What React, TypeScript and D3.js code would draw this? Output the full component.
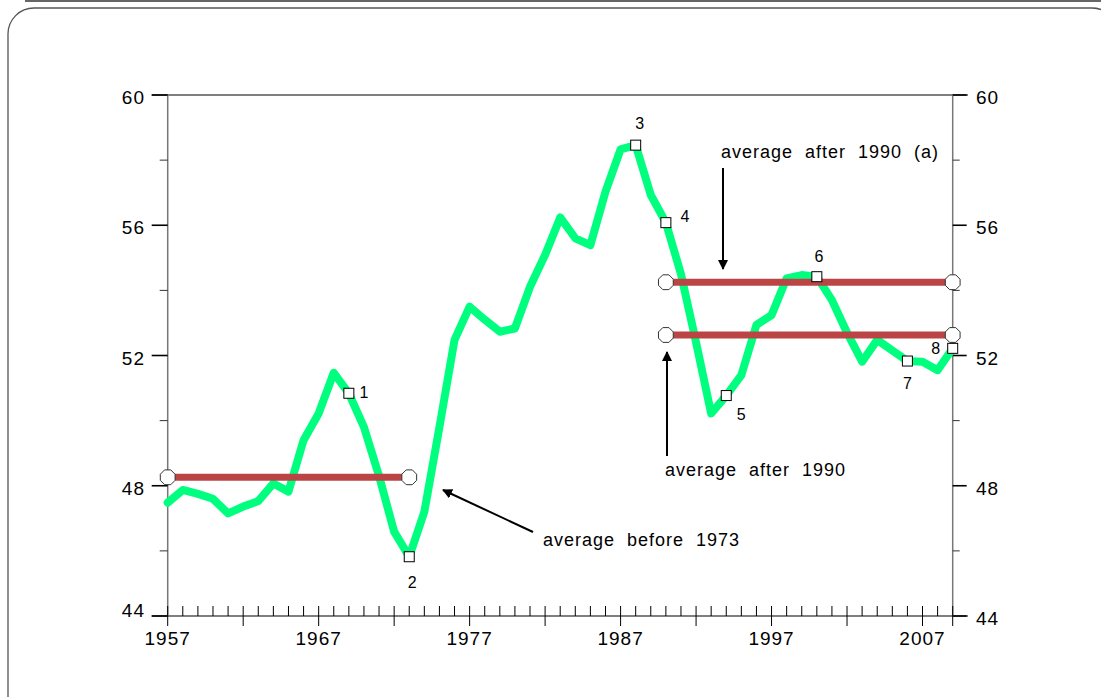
import React from 'react';
import * as d3 from 'd3';

// values, one per year from 1957 to 2009
const years = d3.range(1957, 2010);
const values = [
  47.48, 47.87, 47.75, 47.6, 47.15, 47.36, 47.53, 48.07, 47.82, 49.4,
  50.22, 51.47, 50.84, 49.8, 48.3, 46.59, 45.82, 47.2, 49.8, 52.48,
  53.5, 53.1, 52.73, 52.83, 54.11, 55.09, 56.24, 55.6, 55.39, 57.03,
  58.33, 58.46, 56.93, 56.08, 54.5, 52.4, 50.22, 50.77, 51.4, 52.94,
  53.24, 54.37, 54.47, 54.42, 53.7, 52.7, 51.81, 52.48, 52.15, 51.83,
  51.81, 51.55, 52.22,
];

// numbered points
const markedYears = [1969, 1973, 1988, 1990, 1994, 2000, 2006, 2009];
const markedLabels = ['1', '2', '3', '4', '5', '6', '7', '8'];

// averages: [from, to, value]
const averages: [number, number, number][] = [
  [1957, 1973, 48.26],
  [1990, 2009, 54.25],
  [1990, 2009, 52.63],
];

const yTicks = [44, 48, 52, 56, 60];
const yMinorTicks = [46, 50, 54, 58];
const xLabelYears = [1957, 1967, 1977, 1987, 1997, 2007];

const font = '"Liberation Sans", Arial, Helvetica, sans-serif';

const App = () => {
  const x = d3.scaleLinear().domain([1957, 2009]).range([167.7, 952.7]);
  const y = d3.scaleLinear().domain([44, 60]).range([616, 95]);

  const pts = years.map((yr, i) => ({ yr, v: values[i] }));
  const line = d3
    .line<{ yr: number; v: number }>()
    .x((d) => x(d.yr))
    .y((d) => y(d.v));

  const octagon = (cx: number, cy: number, r: number) =>
    d3
      .range(8)
      .map((k) => {
        const a = (Math.PI / 8) + (k * Math.PI) / 4;
        return `${cx + r * Math.cos(a)},${cy + r * Math.sin(a)}`;
      })
      .join(' ');

  // label offsets relative to each marker
  const labelOffsets = [
    [15, 5], [3, 31], [4, -16], [19, -1], [15, 24], [2, -15], [0, 28], [-17, 6],
  ];

  const [x0, x1] = x.range();
  const [yb, yt] = y.range();

  return (
    <svg
      width={1101}
      height={697}
      style={{ position: 'absolute', left: 0, top: 0, background: '#fff' }}
      fontFamily={font}
    >
      <defs>
        <marker id="ah" viewBox="0 0 10 10" refX="9" refY="5" markerWidth="5" markerHeight="5" orient="auto">
          <path d="M0,0 L10,5 L0,10 z" fill="#000" />
        </marker>
      </defs>
      <line x1={25} x2={1101} y1={1} y2={1} stroke="#666" strokeWidth={2} />
      <rect x={8} y={8} width={1110} height={720} rx={26} fill="none" stroke="#555" strokeWidth={1.3} />

      {/* axes frame */}
      <line x1={151.7} x2={968} y1={yt} y2={yt} stroke="#000" strokeWidth={1.2} />
      <line x1={151.7} x2={968} y1={yb} y2={yb} stroke="#000" strokeWidth={1.2} />
      <line x1={x0} x2={x0} y1={yt} y2={yb} stroke="#777" strokeWidth={1.5} />
      <line x1={x1} x2={x1} y1={yt} y2={yb} stroke="#777" strokeWidth={1.5} />

      {/* y ticks */}
      {yTicks.map((t) => (
        <g key={'yt' + t}>
          <line x1={x0 - 16} x2={x0} y1={y(t)} y2={y(t)} stroke="#000" strokeWidth={1.6} />
          <line x1={x1} x2={x1 + 14} y1={y(t)} y2={y(t)} stroke="#000" strokeWidth={1.6} />
          <text
            x={145}
            y={t === 44 ? y(t) + 1 : y(t) + 9}
            textAnchor="end"
            fontSize={19}
            letterSpacing={1}
            fill="#000"
          >
            {t}
          </text>
          <text x={976} y={y(t) + 9} fontSize={19} letterSpacing={1} fill="#000">
            {t}
          </text>
        </g>
      ))}
      {yMinorTicks.map((t) => (
        <g key={'ym' + t}>
          <line x1={x0 - 8} x2={x0} y1={y(t)} y2={y(t)} stroke="#333" strokeWidth={1} />
          <line x1={x1} x2={x1 + 7} y1={y(t)} y2={y(t)} stroke="#333" strokeWidth={1} />
        </g>
      ))}

      {/* x ticks */}
      {years.map((yr) => {
        const major = (yr - 1957) % 5 === 0 || yr === 2009;
        return (
          <line
            key={'xt' + yr}
            x1={x(yr)}
            x2={x(yr)}
            y1={yb - 10}
            y2={major ? yb + 10 : yb}
            stroke="#000"
            strokeWidth={1}
          />
        );
      })}
      {xLabelYears.map((yr) => (
        <text key={'xl' + yr} x={x(yr)} y={645} textAnchor="middle" fontSize={19} letterSpacing={1} fill="#000">
          {yr}
        </text>
      ))}

      {/* series */}
      <path d={line(pts) ?? ''} fill="none" stroke="#00ff7f" strokeWidth={8} strokeLinejoin="round" strokeLinecap="round" />

      {averages.map(([a, b, v], i) => (
        <line key={'av' + i} x1={x(a)} x2={x(b)} y1={y(v)} y2={y(v)} stroke="#bb4545" strokeWidth={7} />
      ))}
      {averages.map(([a, b, v], i) => (
        <g key={'oc' + i}>
          <polygon points={octagon(x(a), y(v), 8)} fill="#fff" stroke="#333" strokeWidth={1} />
          <polygon points={octagon(x(b), y(v), 8)} fill="#fff" stroke="#333" strokeWidth={1} />
        </g>
      ))}

      {markedYears.map((yr, i) => {
        const v = values[years.indexOf(yr)];
        const [dx, dy] = labelOffsets[i];
        return (
          <g key={'mk' + yr}>
            <rect x={x(yr) - 5} y={y(v) - 5} width={10} height={10} fill="#fff" stroke="#000" strokeWidth={1} />
            <text x={x(yr) + dx} y={y(v) + dy} textAnchor="middle" fontSize={16} fill="#000">
              {markedLabels[i]}
            </text>
          </g>
        );
      })}

      {/* annotations */}
      <g fontSize={18} letterSpacing={1} wordSpacing={6} fill="#000">
        <line x1={533} y1={532} x2={443} y2={490} stroke="#000" strokeWidth={2} markerEnd="url(#ah)" />
        <text x={543} y={546}>average before 1973</text>
        <line x1={723} y1={168} x2={723} y2={269} stroke="#000" strokeWidth={2} markerEnd="url(#ah)" />
        <text x={721} y={158}>average after 1990 (a)</text>
        <line x1={667} y1={456} x2={667} y2={352} stroke="#000" strokeWidth={2} markerEnd="url(#ah)" />
        <text x={665} y={476}>average after 1990</text>
      </g>
    </svg>
  );
};

export default App;
